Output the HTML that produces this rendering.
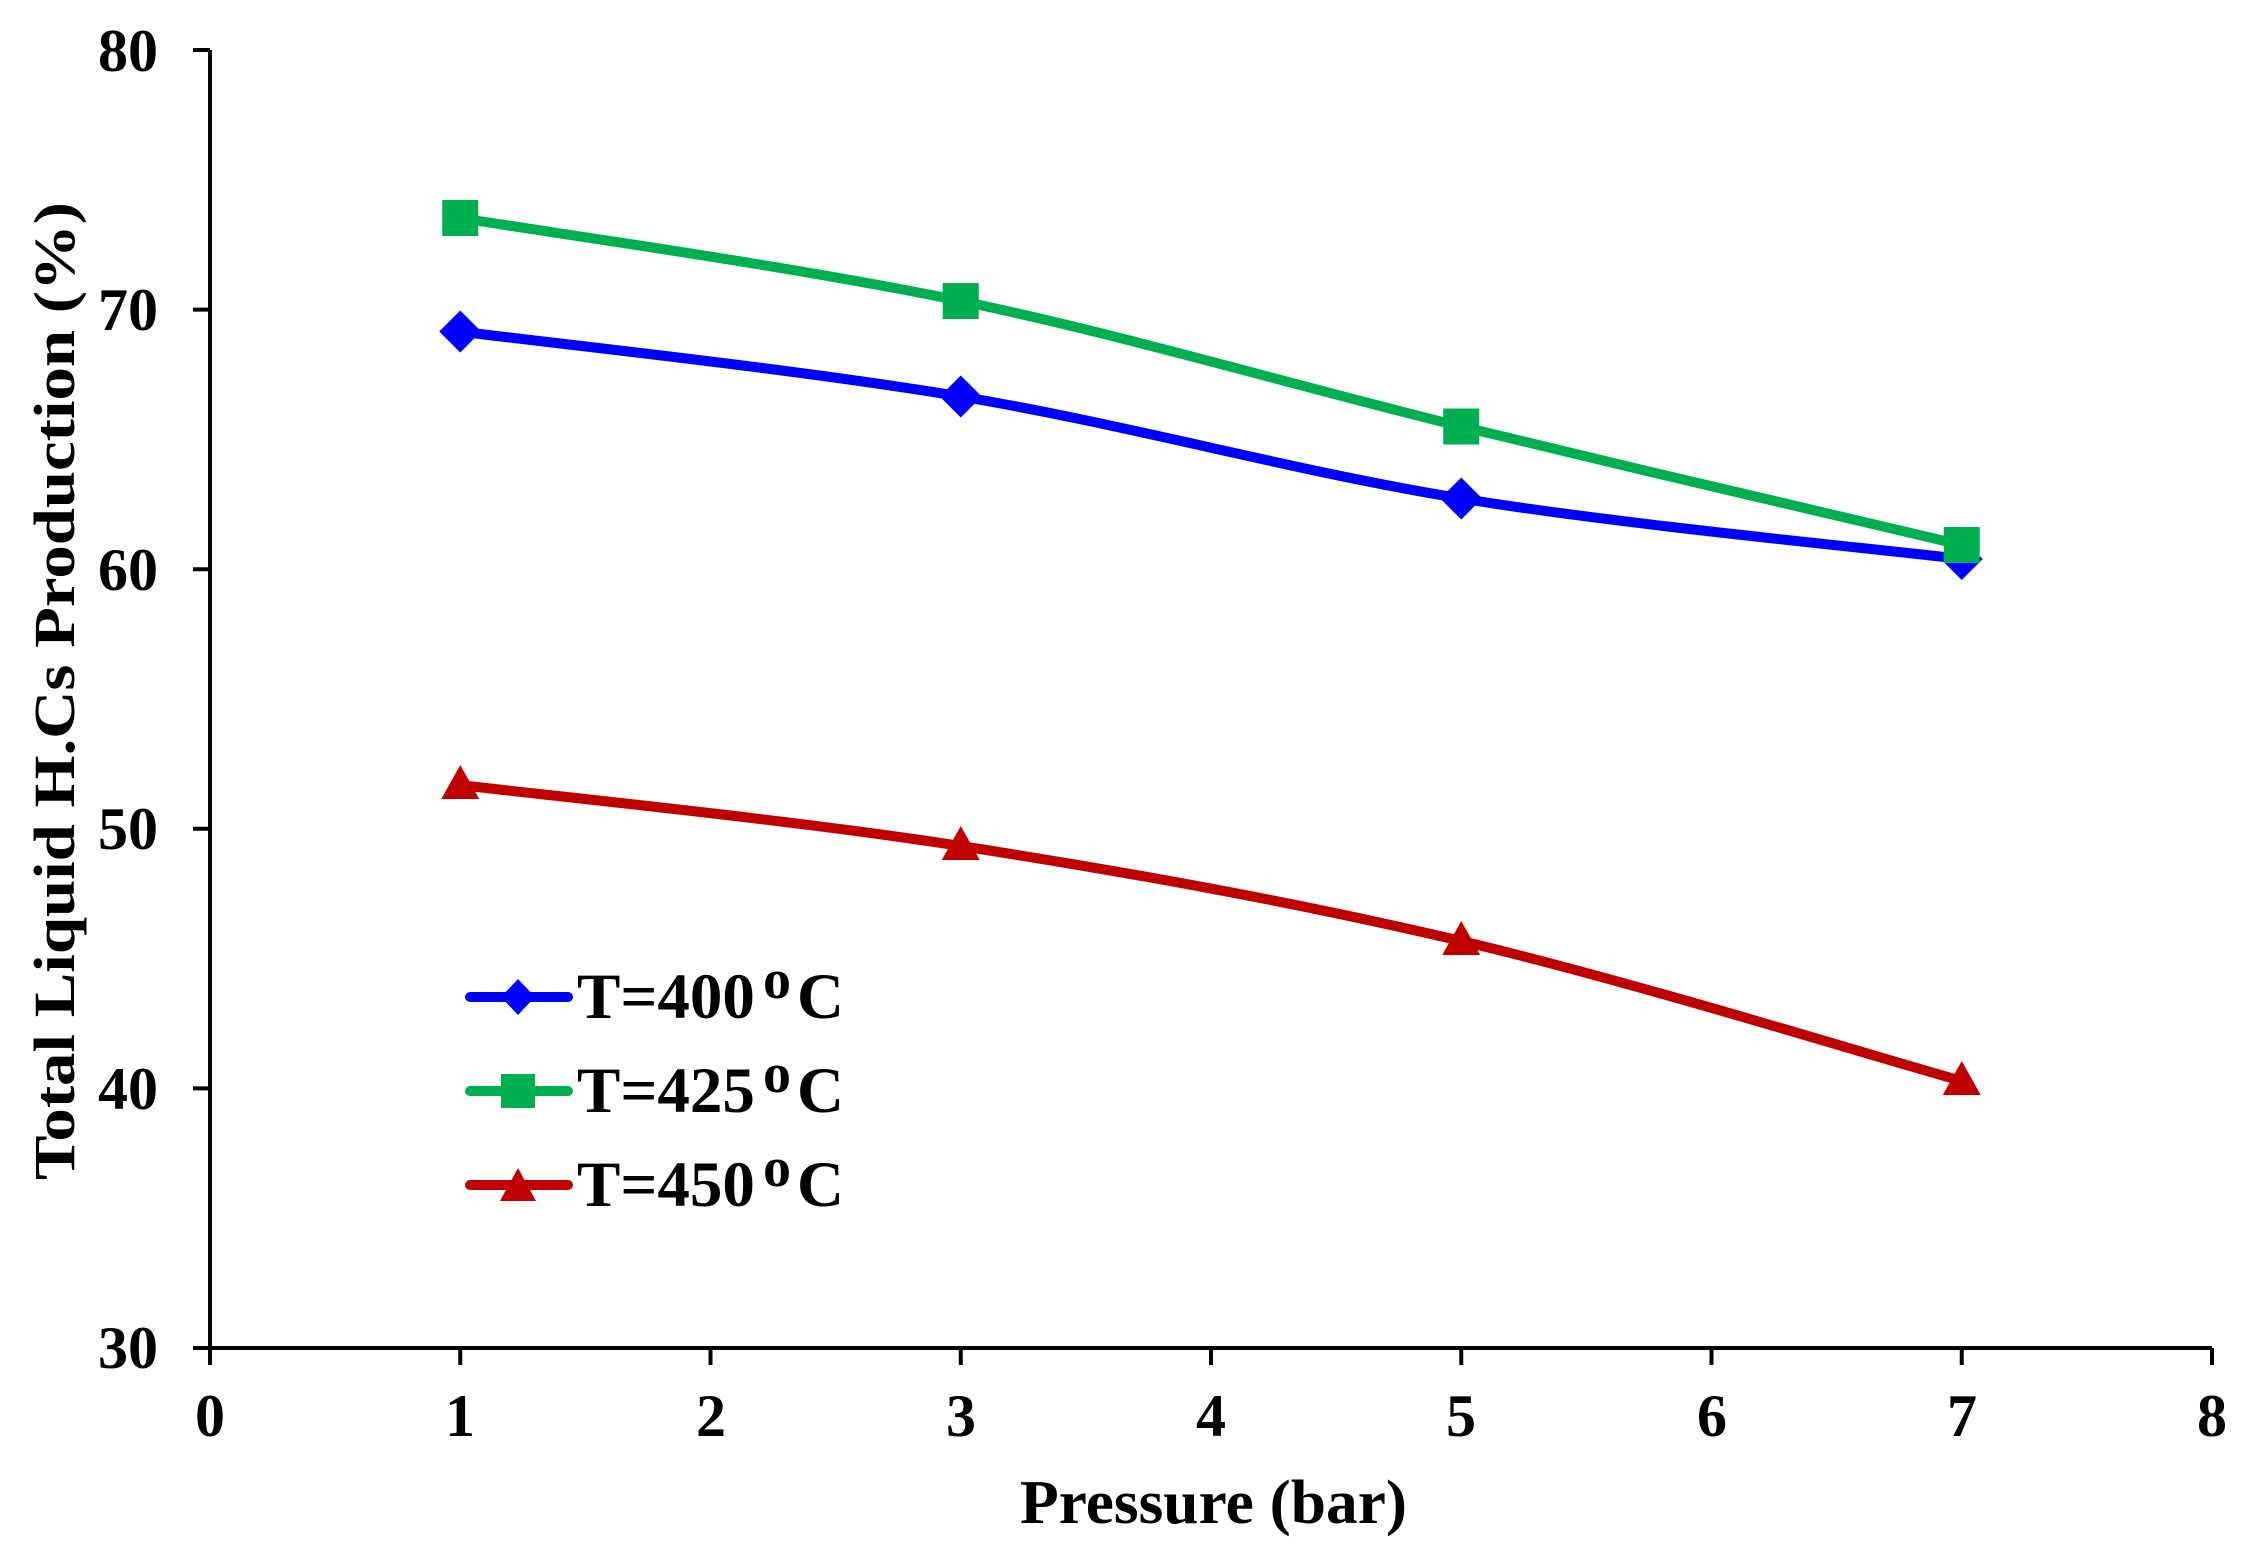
<!DOCTYPE html>
<html><head><meta charset="utf-8"><style>html,body{margin:0;padding:0;background:#fff}svg{display:block}</style></head>
<body>
<svg width="2254" height="1561" viewBox="0 0 2254 1561" xmlns="http://www.w3.org/2000/svg" font-family="'Liberation Serif', serif" font-weight="bold">
<rect width="2254" height="1561" fill="#fff"/>
<g stroke="#000" stroke-width="4" fill="none">
<path d="M210,50 V1348 H2212"/>
<path d="M193,50 H210 M193,309.6 H210 M193,569.2 H210 M193,828.8 H210 M193,1088.4 H210 M193,1348 H210"/>
<path d="M210,1348 V1365 M460.25,1348 V1365 M710.5,1348 V1365 M960.75,1348 V1365 M1211,1348 V1365 M1461.25,1348 V1365 M1711.5,1348 V1365 M1961.75,1348 V1365 M2212,1348 V1365"/>
</g>
<g font-size="60" text-anchor="end" fill="#000">
<text x="158" y="71">80</text>
<text x="158" y="330">70</text>
<text x="158" y="590">60</text>
<text x="158" y="849">50</text>
<text x="158" y="1109">40</text>
<text x="158" y="1368">30</text>
</g>
<g font-size="60" text-anchor="middle" fill="#000">
<text x="210" y="1436">0</text>
<text x="460" y="1436">1</text>
<text x="711" y="1436">2</text>
<text x="961" y="1436">3</text>
<text x="1211" y="1436">4</text>
<text x="1461" y="1436">5</text>
<text x="1712" y="1436">6</text>
<text x="1962" y="1436">7</text>
<text x="2212" y="1436">8</text>
</g>
<text x="1020" y="1523" font-size="62" textLength="387" lengthAdjust="spacingAndGlyphs">Pressure (bar)</text>
<text transform="translate(74,1180) rotate(-90)" x="0" y="0" font-size="58" textLength="978" lengthAdjust="spacingAndGlyphs">Total  Liquid  H.Cs  Production (%)</text>
<g fill="none" stroke-width="10" stroke-linecap="round" stroke-linejoin="round">
<path stroke="#00B050" d="M460.25,218 C543.7,231.8 794,266.3 960.75,301 C1127.6,335.8 1294.4,385.8 1461.25,426.5 C1628,467.2 1878.3,525.3 1961.75,545"/>
<path stroke="#0000FF" d="M460.25,331.5 C543.7,342.3 794,368.7 960.75,396.5 C1127.6,424.3 1294.4,471.4 1461.25,498.5 C1628,525.6 1878.3,548.9 1961.75,559"/>
<path stroke="#C00000" d="M460.25,785 C543.7,795.2 794,820 960.75,846 C1127.6,872 1294.4,901.8 1461.25,941 C1628,980.2 1878.3,1057.7 1961.75,1081"/>
</g>
<g fill="#0000FF">
<path d="M460.25,310.5 l21,21 l-21,21 l-21,-21z"/>
<path d="M960.75,375.5 l21,21 l-21,21 l-21,-21z"/>
<path d="M1461.25,477.5 l21,21 l-21,21 l-21,-21z"/>
<path d="M1961.75,538 l21,21 l-21,21 l-21,-21z"/>
</g>
<g fill="#00B050">
<rect x="442.25" y="200" width="36" height="36"/>
<rect x="942.75" y="283" width="36" height="36"/>
<rect x="1443.25" y="408.5" width="36" height="36"/>
<rect x="1943.75" y="527" width="36" height="36"/>
</g>
<g fill="#C00000">
<path d="M460.25,765 l19,34 h-38z"/>
<path d="M960.75,826 l19,34 h-38z"/>
<path d="M1461.25,921 l19,34 h-38z"/>
<path d="M1961.75,1061 l19,34 h-38z"/>
</g>
<g stroke-width="10" stroke-linecap="round">
<line x1="470" y1="997" x2="568" y2="997" stroke="#0000FF"/>
<line x1="470" y1="1091" x2="568" y2="1091" stroke="#00B050"/>
<line x1="470" y1="1185" x2="568" y2="1185" stroke="#C00000"/>
</g>
<path fill="#0000FF" d="M518,979 l17,18 l-17,18 l-17,-18z"/>
<rect fill="#00B050" x="501" y="1074" width="34" height="34"/>
<path fill="#C00000" d="M518,1168 l18,33 h-36z"/>
<g font-size="65" fill="#000">
<text x="577" y="1018">T=400</text><text x="763" y="998" font-size="56">o</text><text x="797" y="1018">C</text>
<text x="577" y="1112">T=425</text><text x="763" y="1092" font-size="56">o</text><text x="797" y="1112">C</text>
<text x="577" y="1206">T=450</text><text x="763" y="1186" font-size="56">o</text><text x="797" y="1206">C</text>
</g>
</svg>
</body></html>
